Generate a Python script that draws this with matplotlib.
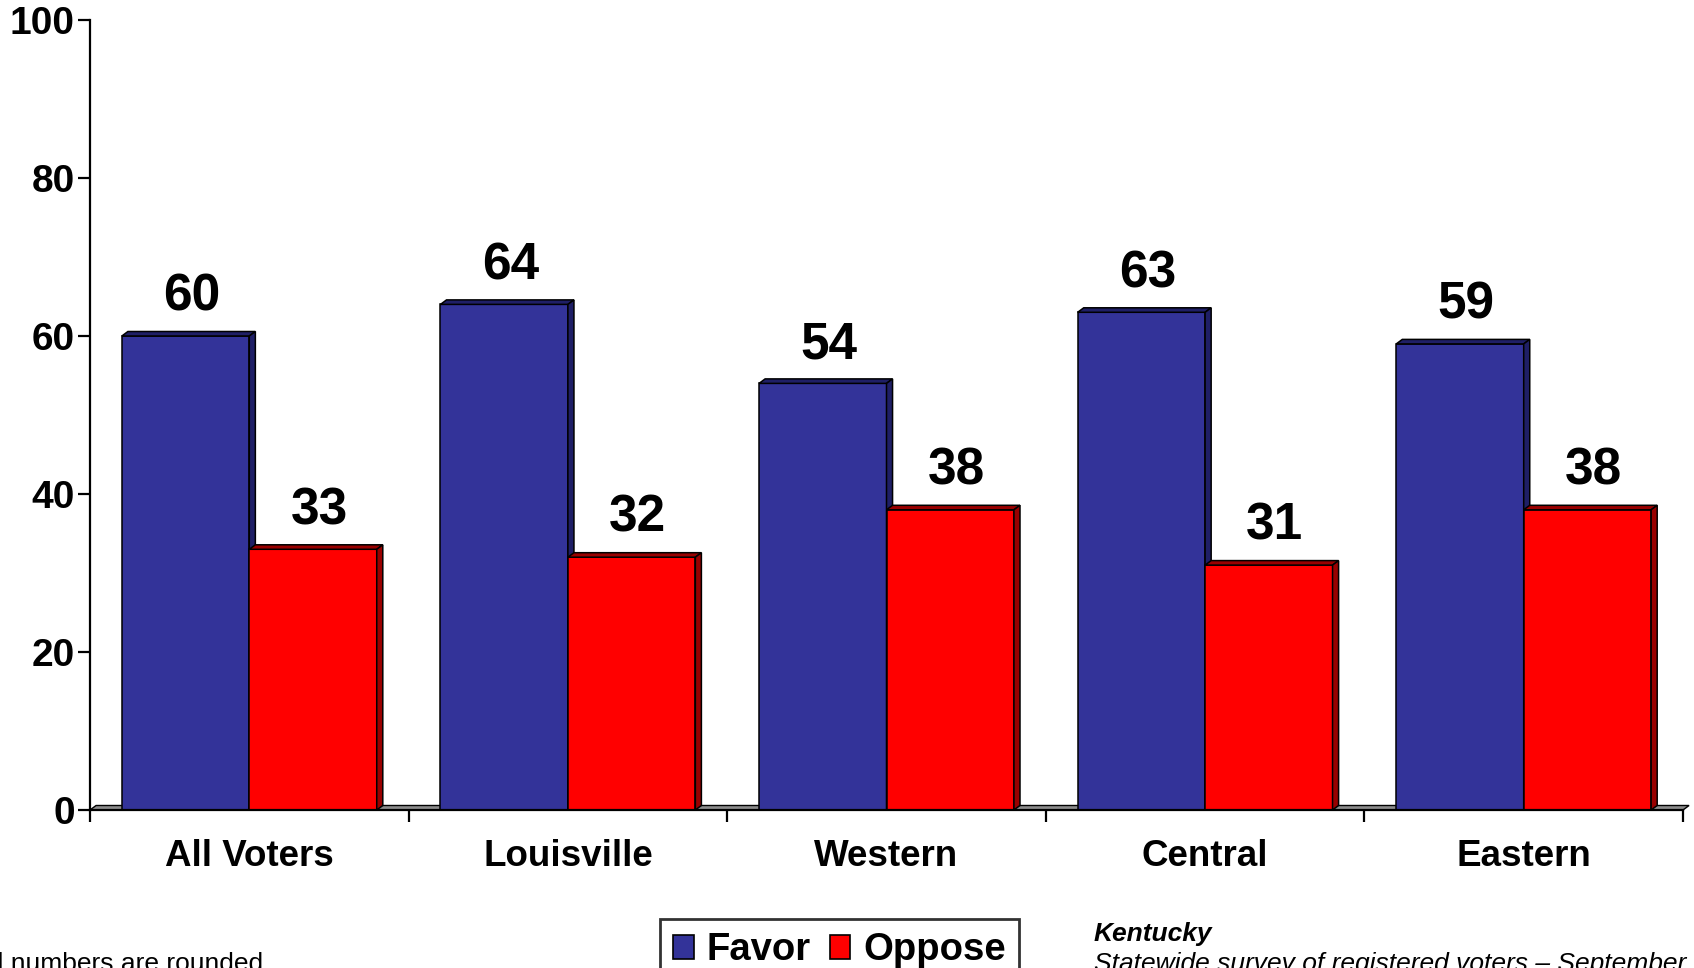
import matplotlib
matplotlib.use("Agg")
import matplotlib.pyplot as plt
from matplotlib.patches import Polygon, Patch

plt.rcParams["font.family"] = ["Liberation Sans", "DejaVu Sans"]

REGIONS = ["All Voters", "Louisville", "Western", "Central", "Eastern"]
FAVOR = [60, 64, 54, 63, 59]
OPPOSE = [33, 32, 38, 31, 38]

BLUE = "#333399"
BLUE_DARK = "#1f1f66"
RED = "#ff0000"
RED_DARK = "#990000"

BAR_W = 0.4
DEPTH_X = 0.019   # depth of the fake 3D extrusion, in group units
DEPTH_Y = 0.57    # same, in percentage points


def draw_3d_bar(ax, x0, height, face, dark):
    x1 = x0 + BAR_W
    ax.bar(x0, height, width=BAR_W, align="edge", color=face,
           edgecolor="black", linewidth=1.1, zorder=3)
    top = Polygon([(x0, height), (x1, height), (x1 + DEPTH_X, height + DEPTH_Y),
                   (x0 + DEPTH_X, height + DEPTH_Y)], closed=True,
                  facecolor=dark, edgecolor="black", linewidth=1.1, zorder=3)
    side = Polygon([(x1, 0), (x1 + DEPTH_X, DEPTH_Y), (x1 + DEPTH_X, height + DEPTH_Y),
                    (x1, height)], closed=True,
                   facecolor=dark, edgecolor="black", linewidth=1.1, zorder=3)
    ax.add_patch(top)
    ax.add_patch(side)
    ax.text(x0 + BAR_W / 2 + DEPTH_X, height + 3.2, f"{height}",
            ha="center", va="baseline", fontsize=37, fontweight="bold", zorder=4)


fig = plt.figure(figsize=(16.94, 9.68), dpi=100)
W, H = 1694, 968
ax = fig.add_axes([90 / W, (H - 810) / H, (1683 - 90) / W, (810 - 20) / H])

n = len(REGIONS)

# grey floor under the bars
floor = Polygon([(0, 0), (n, 0), (n + DEPTH_X, DEPTH_Y), (DEPTH_X, DEPTH_Y)],
                closed=True, facecolor="#8c8c8c", edgecolor="black",
                linewidth=1.0, zorder=2, clip_on=False)
ax.add_patch(floor)

for i in range(n):
    draw_3d_bar(ax, i + 0.1, FAVOR[i], BLUE, BLUE_DARK)
    draw_3d_bar(ax, i + 0.5, OPPOSE[i], RED, RED_DARK)

ax.set_xlim(0, n)
ax.set_ylim(0, 100)

for side in ["top", "right"]:
    ax.spines[side].set_visible(False)
for side in ["left", "bottom"]:
    ax.spines[side].set_linewidth(1.6)
    ax.spines[side].set_zorder(5)

ax.set_yticks(range(0, 101, 20))
ax.tick_params(axis="y", length=8.5, width=1.6, pad=2.5, labelsize=28)
for lbl in ax.get_yticklabels():
    lbl.set_fontweight("bold")

ax.set_xticks(range(n + 1))
ax.set_xticklabels([])
ax.set_xticks([i + 0.5 for i in range(n)], minor=True)
ax.set_xticklabels(REGIONS, minor=True, fontsize=26.5, fontweight="bold")
ax.tick_params(axis="x", which="major", length=8.5, width=1.6)
ax.tick_params(axis="x", which="minor", length=0, pad=21)

handles = [Patch(facecolor=BLUE, edgecolor="black", linewidth=1.2, label="Favor"),
           Patch(facecolor=RED, edgecolor="black", linewidth=1.2, label="Oppose")]
leg = fig.legend(handles=handles, loc="upper left",
                 bbox_to_anchor=(660 / W, 1 - 919 / H), ncol=2,
                 prop={"size": 27.5, "weight": "bold"}, frameon=True,
                 fancybox=False, handlelength=0.54, handleheight=0.6,
                 handletextpad=0.33, columnspacing=0.5, borderpad=0.35,
                 borderaxespad=0)
leg.get_frame().set_edgecolor("black")
leg.get_frame().set_linewidth(2)

fig.text(263 / W, 1 - 971 / H, "All numbers are rounded", ha="right",
         va="baseline", fontsize=19)
fig.text(1094 / W, 1 - 941 / H, "Kentucky", ha="left", va="baseline",
         fontsize=19, fontweight="bold", fontstyle="italic")
fig.text(1094 / W, 1 - 971 / H, "Statewide survey of registered voters \u2013 September",
         ha="left", va="baseline", fontsize=19, fontstyle="italic")

fig.savefig("out.png", dpi=100)
